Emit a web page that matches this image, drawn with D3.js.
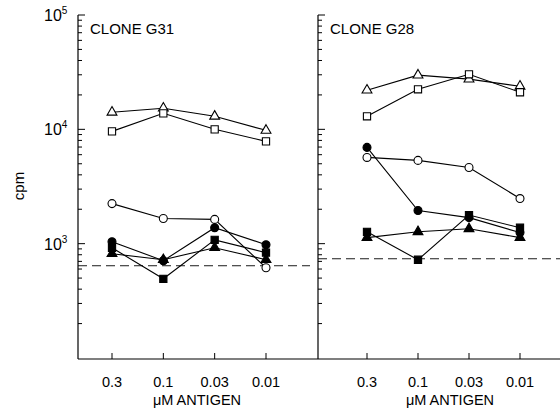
<!DOCTYPE html>
<html>
<head>
<meta charset="utf-8">
<script src="https://cdn.jsdelivr.net/npm/d3@7"></script>
<style>
  body { margin: 0; background: #fff; }
  svg { font-family: "Liberation Sans", Arial, sans-serif; }
</style>
</head>
<body>
<svg id="chart" width="560" height="410"></svg>
<script>
// antigen concentrations (uM), plotted high -> low
const conc = ["0.3", "0.1", "0.03", "0.01"];

// clone G31 (cpm)
const g31OpenTri = [14100, 15300, 13000, 9800];
const g31OpenSq = [9600, 13800, 10000, 7850];
const g31OpenCirc = [2240, 1660, 1630, 616];
const g31FillCirc = [1040, 710, 1380, 980];
const g31FillSq = [920, 493, 1080, 834];
const g31FillTri = [817, 724, 922, 724];
const g31Background = 641;

// clone G28 (cpm)
const g28OpenTri = [22000, 29800, 27500, 23800];
const g28OpenSq = [13000, 22400, 30300, 21100];
const g28OpenCirc = [5680, 5350, 4640, 2480];
const g28FillCirc = [6950, 1950, 1690, 1250];
const g28FillSq = [1270, 723, 1780, 1380];
const g28FillTri = [1130, 1270, 1350, 1130];
const g28Background = 738;

const yLabels = [
    {v: 1e5, t: "10", e: "5"},
    {v: 1e4, t: "10", e: "4"},
    {v: 1e3, t: "10", e: "3"}
];

const panels = [
    {title: "CLONE G31", axisX: 78, range: [112, 266], dash: [78, 310], bg: g31Background,
     labelX: 197,
     series: [
        {v: g31OpenTri, s: d3.symbolTriangle, fill: false},
        {v: g31OpenSq, s: d3.symbolSquare, fill: false},
        {v: g31OpenCirc, s: d3.symbolCircle, fill: false},
        {v: g31FillTri, s: d3.symbolTriangle, fill: true},
        {v: g31FillSq, s: d3.symbolSquare, fill: true},
        {v: g31FillCirc, s: d3.symbolCircle, fill: true}
     ]},
    {title: "CLONE G28", axisX: 318, range: [367, 520], dash: [318, 560], bg: g28Background,
     labelX: 450,
     series: [
        {v: g28OpenTri, s: d3.symbolTriangle, fill: false},
        {v: g28OpenSq, s: d3.symbolSquare, fill: false},
        {v: g28OpenCirc, s: d3.symbolCircle, fill: false},
        {v: g28FillTri, s: d3.symbolTriangle, fill: true},
        {v: g28FillSq, s: d3.symbolSquare, fill: true},
        {v: g28FillCirc, s: d3.symbolCircle, fill: true}
     ]}
];

const svg = d3.select("#chart");
const bottom = 359;

const y = d3.scaleLog().domain([100, 100000]).range([358, 15]);

// bottom axis line across both panels
svg.append("line")
    .attr("x1", 78).attr("x2", 560)
    .attr("y1", bottom).attr("y2", bottom)
    .attr("stroke", "#000").attr("stroke-width", 1.2);

// y tick values: 2..9 per decade
const minor = [];
[100, 1000, 10000].forEach(d => {
    for (let k = 2; k <= 9; k++) minor.push(d * k);
});

panels.forEach(p => {
    const x = d3.scalePoint().domain(conc).range(p.range);
    const g = svg.append("g");

    // y axis
    g.append("line")
        .attr("x1", p.axisX).attr("x2", p.axisX)
        .attr("y1", y(1e5)).attr("y2", bottom)
        .attr("stroke", "#000").attr("stroke-width", 1.2);
    g.selectAll(".minor").data(minor).join("line")
        .attr("x1", p.axisX).attr("x2", p.axisX + 4)
        .attr("y1", d => y(d)).attr("y2", d => y(d))
        .attr("stroke", "#000");
    g.selectAll(".major").data([1e3, 1e4, 1e5]).join("line")
        .attr("x1", p.axisX).attr("x2", p.axisX + 7)
        .attr("y1", d => y(d)).attr("y2", d => y(d))
        .attr("stroke", "#000");

    // x ticks + labels
    g.selectAll(".xt").data(conc).join("line")
        .attr("x1", d => x(d)).attr("x2", d => x(d))
        .attr("y1", bottom).attr("y2", bottom - 6)
        .attr("stroke", "#000");
    g.selectAll(".xl").data(conc).join("text")
        .attr("x", d => x(d)).attr("y", 387)
        .attr("text-anchor", "middle")
        .attr("font-size", 14.5)
        .text(d => d);
    g.append("text")
        .attr("x", p.labelX).attr("y", 405)
        .attr("text-anchor", "middle")
        .attr("font-size", 14.5)
        .text("\u03bcM ANTIGEN");

    // title
    g.append("text")
        .attr("x", p.axisX + 12).attr("y", 34)
        .attr("font-size", 15)
        .text(p.title);

    // background (dashed)
    g.append("line")
        .attr("x1", p.dash[0]).attr("x2", p.dash[1])
        .attr("y1", y(p.bg)).attr("y2", y(p.bg))
        .attr("stroke", "#000").attr("stroke-width", 0.9)
        .attr("stroke-dasharray", "9,5");

    const line = d3.line().x((d, i) => x(conc[i])).y(d => y(d));
    p.series.forEach(s => {
        g.append("path")
            .attr("d", line(s.v))
            .attr("fill", "none")
            .attr("stroke", "#000").attr("stroke-width", 1.1);
    });
    p.series.forEach(s => {
        const size = s.s === d3.symbolTriangle ? 42 : (s.s === d3.symbolSquare ? 52 : 50);
        g.selectAll(null).data(s.v).join("path")
            .attr("transform", (d, i) => `translate(${x(conc[i])},${y(d)})`)
            .attr("d", d3.symbol().type(s.s).size(size))
            .attr("fill", s.fill ? "#000" : "#fff")
            .attr("stroke", "#000").attr("stroke-width", 1.1);
    });
});

// y labels (left only)
const yl = svg.selectAll(".yl").data(yLabels).join("text")
    .attr("x", 44).attr("y", d => y(d.v) + 6)
    .attr("font-size", 16);
yl.append("tspan").text(d => d.t);
yl.append("tspan").attr("dy", -7).attr("font-size", 10).text(d => d.e);

svg.append("text")
    .attr("transform", "translate(24,186) rotate(-90)")
    .attr("text-anchor", "middle")
    .attr("font-size", 15)
    .text("cpm");
</script>
</body>
</html>
